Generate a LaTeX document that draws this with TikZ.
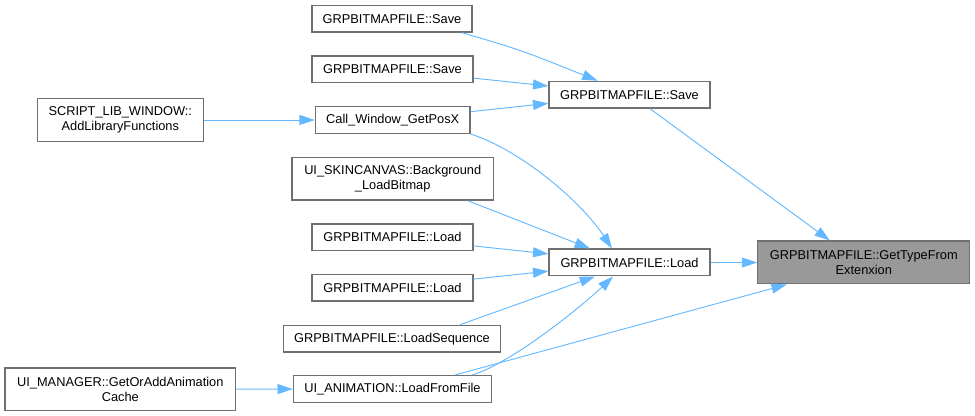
\documentclass[tikz,border=0pt]{standalone}
\usepackage{fontspec}
\setmainfont{Liberation Sans}
\usepackage{xcolor}
\usetikzlibrary{arrows.meta,calc}
\definecolor{edgeblue}{HTML}{63B8FF}
\definecolor{boxline}{HTML}{707070}
\definecolor{hilite}{HTML}{999999}

\begin{document}
\begin{tikzpicture}[x=0.75pt,y=0.75pt,
    every node/.style={font=\fontsize{9.6}{11.3}\selectfont},
    fn/.style={draw=boxline,line width=1pt,fill=white,inner sep=0pt,minimum height=20pt,align=center},
    fn2/.style={fn,minimum height=32pt},
    calledge/.style={edgeblue,line width=0.7pt,-{Triangle[length=11.5pt,width=7.5pt]}}]
  \useasboundingbox (0,0) rectangle (975,416);
  % callee
  \node[fn2,fill=hilite,minimum width=159pt] (gtype) at (863.8,153.5) {GRPBITMAPFILE::GetTypeFrom\\Extenxion};
  % direct callers
  \node[fn,minimum width=120.75pt] (save) at (629.5,321.3) {GRPBITMAPFILE::Save};
  \node[fn,minimum width=120.75pt] (load) at (629.5,153.5) {GRPBITMAPFILE::Load};
  % second column
  \node[fn,minimum width=120pt] (sav1) at (392,397.3) {GRPBITMAPFILE::Save};
  \node[fn,minimum width=120.75pt] (sav2) at (392.5,346.5) {GRPBITMAPFILE::Save};
  \node[fn,minimum width=116pt] (cwin) at (392.7,296) {Call\_Window\_GetPosX};
  \node[fn2,minimum width=151pt] (skin) at (392.7,237.3) {UI\_SKINCANVAS::Background\\\_LoadBitmap};
  \node[fn,minimum width=120.75pt] (lod1) at (392.5,178.7) {GRPBITMAPFILE::Load};
  \node[fn,minimum width=120.75pt] (lod2) at (392.5,128.2) {GRPBITMAPFILE::Load};
  \node[fn,minimum width=163pt] (lseq) at (392,77.3) {GRPBITMAPFILE::LoadSequence};
  \node[fn,minimum width=148.5pt] (anim) at (392.5,27) {UI\_ANIMATION::LoadFromFile};
  % outer callers
  \node[fn2,minimum width=124.5pt] (slib) at (120.3,296) {SCRIPT\_LIB\_WINDOW::\\AddLibraryFunctions};
  \node[fn2,minimum width=173pt] (uimg) at (120.3,26.8) {UI\_MANAGER::GetOrAddAnimation\\Cache};
  % edges into Save / GetType
  \draw[calledge] ($(sav1.south)+(70,0)$) .. controls (521,366) .. ($(save.north)+(-32,0)$);
  \draw[calledge] (sav2) -- (save);
  \draw[calledge] (cwin) -- (save);
  \draw[calledge] ($(save.south)+(20.5,0)$) -- ($(gtype.north)+(-34,0)$);
  \draw[calledge] (load) -- (gtype);
  \draw[calledge] (slib) -- (cwin);
  \draw[calledge] (uimg) -- (anim);
  % edges into Load
  \draw[calledge] (cwin.south east) .. controls (520,266) and (580,216) .. ($(load.north)+(-17.5,0)$);
  \draw[calledge] ($(skin.south)+(75,0)$) -- ($(load.north)+(-39.5,0)$);
  \draw[calledge] (lod1) -- (load);
  \draw[calledge] (lod2) -- (load);
  \draw[calledge] ($(lseq.north)+(68,0)$) -- ($(load.south)+(-34.5,0)$);
  \draw[calledge] ($(anim.north)+(79.5,0)$) .. controls (510,52) and (580,108) .. ($(load.south)+(-16.5,0)$);
  \draw[calledge] ($(anim.north)+(62.5,0)$) -- ($(gtype.south)+(-77,0)$);
\end{tikzpicture}
\end{document}
